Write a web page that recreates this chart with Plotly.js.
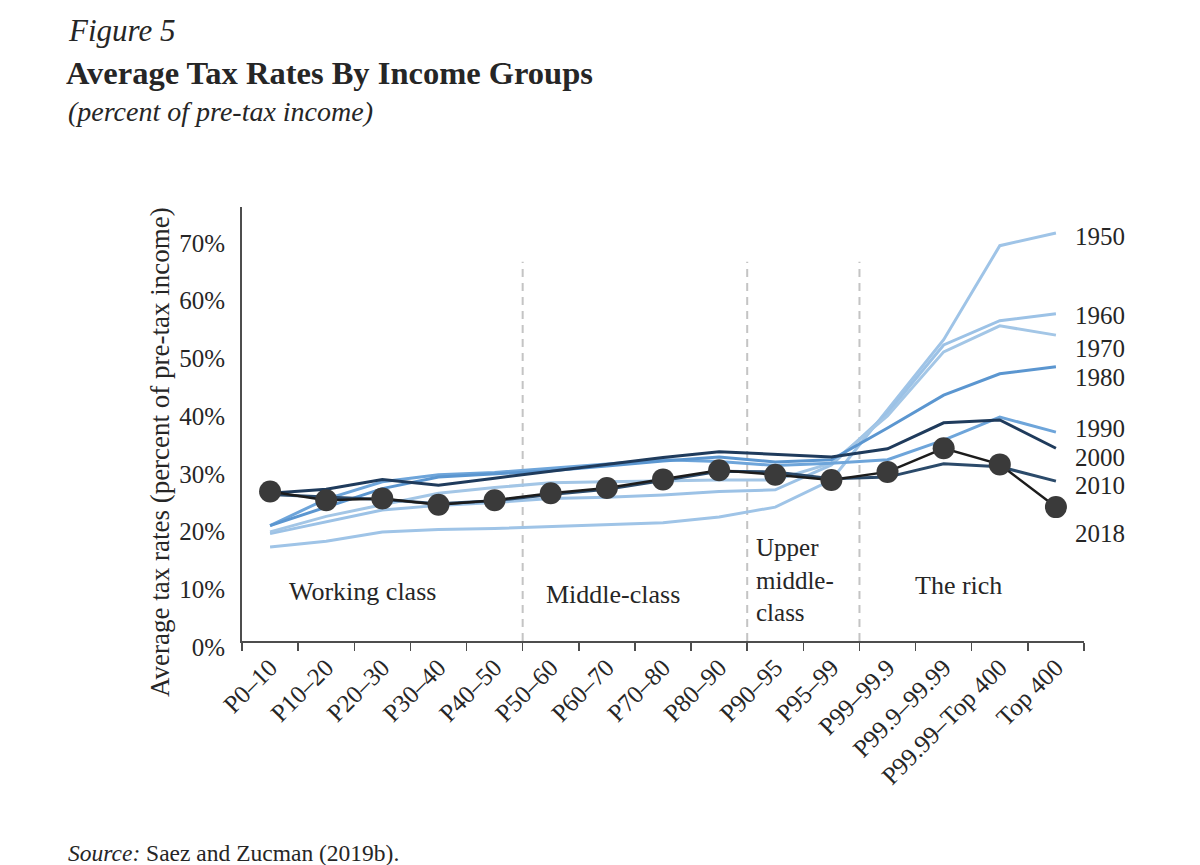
<!DOCTYPE html>
<html>
<head>
<meta charset="utf-8">
<script src="https://cdn.plot.ly/plotly-3.0.1.min.js"></script>
<style>
  html, body { margin: 0; padding: 0; background: #ffffff; }
  #chart { width: 1200px; height: 865px; }
</style>
</head>
<body>
<div id="chart"></div>
<script>
// ---- Data (average tax rates, % of pre-tax income) ----
const groups = ["P0–10", "P10–20", "P20–30", "P30–40", "P40–50", "P50–60", "P60–70", "P70–80", "P80–90", "P90–95", "P95–99", "P99–99.9", "P99.9–99.99", "P99.99–Top 400", "Top 400"];

const y1950 = [16.3, 17.3, 18.9, 19.3, 19.5, 19.8, 20.1, 20.5, 21.5, 23.2, 27.9, 40.0, 52.2, 68.5, 70.7];
const y1960 = [18.6, 20.6, 22.7, 23.5, 24.0, 24.7, 24.9, 25.3, 25.9, 26.2, 30.5, 39.5, 51.3, 55.5, 56.7];
const y1970 = [18.9, 21.6, 23.6, 25.6, 26.6, 27.4, 27.6, 27.8, 27.9, 27.9, 30.8, 39.0, 50.1, 54.6, 53.0];
const y1980 = [20.0, 23.2, 26.4, 28.4, 28.9, 29.5, 30.3, 31.2, 31.9, 31.0, 31.4, 36.9, 42.6, 46.3, 47.5];
const y1990 = [20.0, 24.6, 27.6, 28.8, 29.2, 29.9, 30.6, 31.4, 31.1, 30.4, 30.8, 31.4, 34.8, 38.8, 36.2];
const y2000 = [25.6, 26.3, 28.0, 27.0, 28.2, 29.4, 30.6, 31.8, 32.8, 32.3, 31.9, 33.3, 37.8, 38.3, 33.4];
const y2010 = [25.4, 24.9, 24.5, 23.8, 24.3, 25.4, 26.3, 27.8, 29.4, 29.3, 28.1, 28.4, 30.7, 30.2, 27.7];
const y2018 = [25.9, 24.4, 24.7, 23.6, 24.4, 25.6, 26.5, 28.0, 29.6, 28.8, 27.9, 29.3, 33.4, 30.6, 23.2];

const yTickVals = [0, 10, 20, 30, 40, 50, 60, 70];
const yTickText = ["0%", "10%", "20%", "30%", "40%", "50%", "60%", "70%"];
const yearLabels = ["1950", "1960", "1970", "1980", "1990", "2000", "2010", "2018"];
const classLabels = ["Working class", "Middle-class", "Upper<br>middle-<br>class", "The rich"];
const classBoundaries = [4.5, 8.5, 10.5];

const FONT = "Liberation Serif, Times New Roman, serif";
const TXT = "#262626";

function lineTrace(name, y, color, width) {
  return {
    type: "scatter", mode: "lines", name: name,
    x: groups, y: y,
    line: { color: color, width: width },
    hoverinfo: "skip"
  };
}

const traces = [
  lineTrace("1950", y1950, "#9fc4e7", 3),
  lineTrace("1960", y1960, "#9cc2e6", 3),
  lineTrace("1970", y1970, "#a3c6e6", 3),
  lineTrace("1990", y1990, "#6ea5da", 3),
  lineTrace("1980", y1980, "#5b96d0", 3),
  lineTrace("2010", y2010, "#2b4a6a", 3),
  lineTrace("2000", y2000, "#1f3b5c", 3),
  {
    type: "scatter", mode: "lines+markers", name: "2018",
    x: groups, y: y2018,
    line: { color: "#1c1c1c", width: 2.5 },
    marker: { color: "#3a3a3a", size: 22 },
    hoverinfo: "skip"
  }
];

// pixel -> paper helpers for text placement (plot area: x 242..1084, y 207..641)
const px = v => (v - 242) / 842;
const py = v => (641 - v) / 434;

const yearY = [236, 315, 348, 377, 428, 457, 485, 533];
const annotations = [];
yearLabels.forEach((t, i) => {
  annotations.push({
    xref: "paper", yref: "paper", x: px(1073), y: py(yearY[i]),
    xanchor: "left", yanchor: "middle", showarrow: false,
    text: t, font: { family: FONT, size: 25, color: TXT }
  });
});
annotations.push(
  { xref: "paper", yref: "paper", x: px(362), y: py(591), xanchor: "center", yanchor: "middle", showarrow: false,
    text: classLabels[0], font: { family: FONT, size: 26, color: TXT } },
  { xref: "paper", yref: "paper", x: px(613), y: py(594), xanchor: "center", yanchor: "middle", showarrow: false,
    text: classLabels[1], font: { family: FONT, size: 26, color: TXT } },
  { xref: "paper", yref: "paper", x: px(754), y: py(580), xanchor: "left", yanchor: "middle", align: "left", showarrow: false,
    text: classLabels[2], font: { family: FONT, size: 25, color: TXT } },
  { xref: "paper", yref: "paper", x: px(958), y: py(585), xanchor: "center", yanchor: "middle", showarrow: false,
    text: classLabels[3], font: { family: FONT, size: 26, color: TXT } },
  // y-axis title (placed to match the reference's offset position)
  { xref: "paper", yref: "paper", x: px(160), y: py(452), xanchor: "center", yanchor: "middle", showarrow: false,
    textangle: -90,
    text: "Average tax rates (percent of pre-tax income)", font: { family: FONT, size: 27, color: TXT } },
  // header lines
  { xref: "paper", yref: "paper", x: px(66), y: py(30), xanchor: "left", yanchor: "middle", showarrow: false,
    text: "<i>Figure 5</i>", font: { family: FONT, size: 31, color: TXT } },
  { xref: "paper", yref: "paper", x: px(66), y: py(111), xanchor: "left", yanchor: "middle", showarrow: false,
    text: "<i>(percent of pre-tax income)</i>", font: { family: FONT, size: 28, color: TXT } },
  // source
  { xref: "paper", yref: "paper", x: px(66), y: py(853), xanchor: "left", yanchor: "middle", showarrow: false,
    text: "<i>Source:</i> Saez and Zucman (2019b).", font: { family: FONT, size: 23.5, color: TXT } }
);

const shapes = classBoundaries.map(b => ({
  type: "line", xref: "x", yref: "y",
  x0: b, x1: b, y0: 0, y1: 65.7,
  line: { color: "#c4c4c4", width: 2, dash: "8px,6px" },
  layer: "below"
}));

const layout = {
  width: 1200, height: 865,
  paper_bgcolor: "#ffffff", plot_bgcolor: "#ffffff",
  margin: { l: 242, r: 116, t: 207, b: 224 },
  showlegend: false,
  font: { family: FONT, color: TXT },
  title: {
    text: "<b>Average Tax Rates By Income Groups</b>",
    xref: "container", yref: "container",
    x: 66 / 1200, xanchor: "left",
    y: 1 - 73 / 865, yanchor: "middle",
    font: { family: FONT, size: 32.5, color: TXT }
  },
  xaxis: {
    type: "category",
    range: [-0.5, 14.5],
    tickson: "boundaries",
    ticks: "outside", ticklen: 8, tickwidth: 1.5, tickcolor: "#4d4d4d",
    showline: true, linecolor: "#4d4d4d", linewidth: 2,
    showgrid: false, zeroline: false,
    tickangle: -45,
    tickfont: { family: FONT, size: 25, color: TXT },
    fixedrange: true
  },
  yaxis: {
    range: [0, 75.2],
    tickmode: "array",
    tickvals: yTickVals,
    ticktext: yTickText,
    ticks: "",
    showline: true, linecolor: "#4d4d4d", linewidth: 2,
    showgrid: false, zeroline: false,
    tickfont: { family: FONT, size: 25, color: TXT },
    ticklabelstandoff: 10,
    ticklabelshift: 6,
    fixedrange: true
  },
  annotations: annotations,
  shapes: shapes
};

Plotly.newPlot("chart", traces, layout, { displayModeBar: false, staticPlot: true });
</script>
</body>
</html>
